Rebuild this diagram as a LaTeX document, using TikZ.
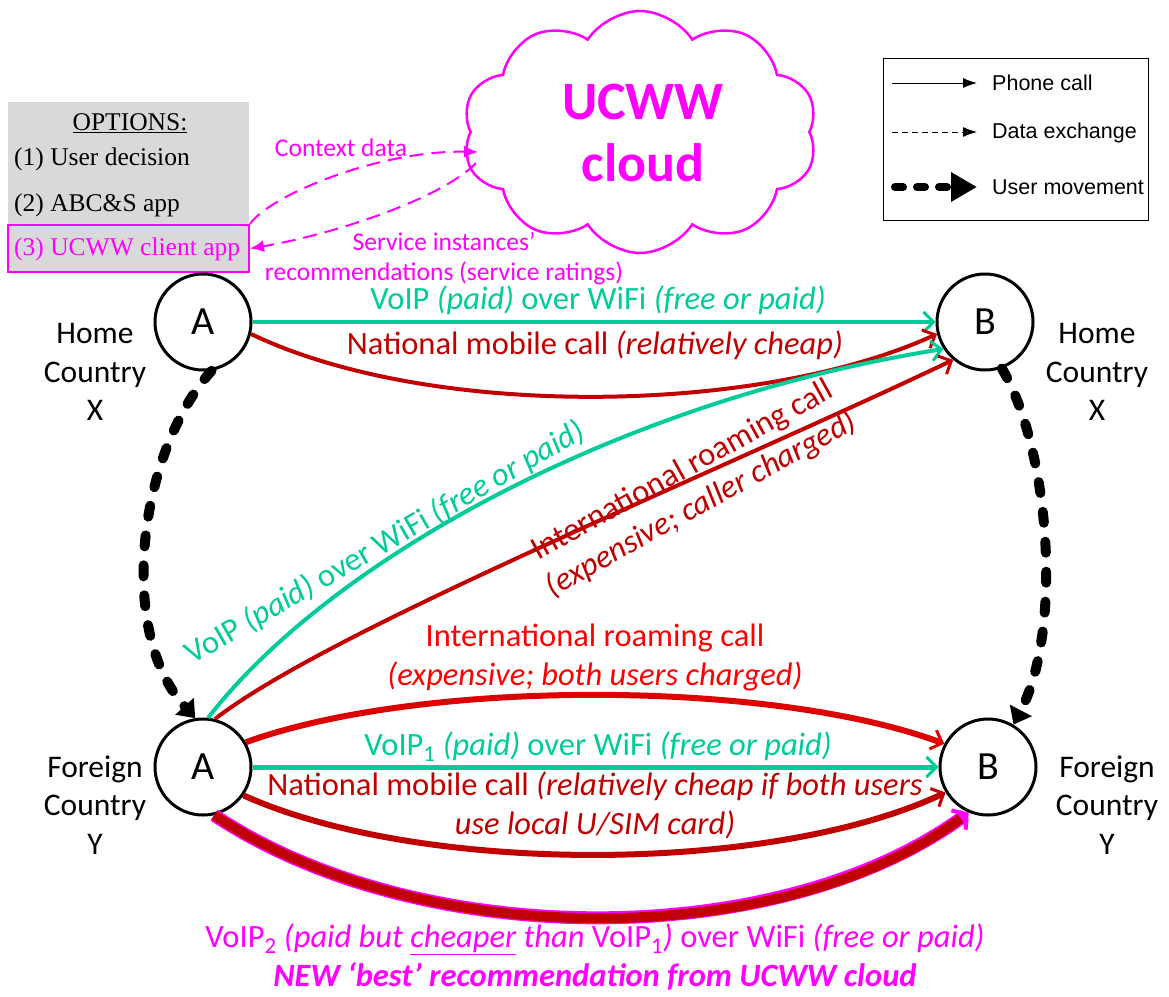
\documentclass[tikz,border=0pt]{standalone}
\usepackage{fontspec}
\setmainfont{Carlito}
\newfontfamily\timesf{Liberation Serif}
\newfontfamily\arialf{Liberation Sans}
\usetikzlibrary{arrows.meta,shapes.symbols}
\definecolor{teal2}{RGB}{0,204,153}
\definecolor{dred}{RGB}{192,0,0}
\definecolor{bred}{RGB}{255,0,0}
\definecolor{mred}{RGB}{220,0,0}
\definecolor{mag}{RGB}{255,0,255}
\definecolor{optgray}{RGB}{217,217,217}
\begin{document}
\begin{tikzpicture}[x=1pt,y=-1pt,
  person/.style={circle,draw,line width=3pt,minimum size=96pt,inner sep=0pt,font=\fontsize{40}{40}\selectfont},
  place/.style={align=center,font=\fontsize{31.5}{38.5}\selectfont},
  lbl/.style={align=center,inner sep=0pt,font=\fontsize{32.5}{39}\selectfont},
  barb/.style={-{Straight Barb[length=10pt,width=20pt,line width=3pt]}},
  call/.style={line width=4pt,barb},
  bigcall/.style={line width=6pt,barb},
  data/.style={mag,line width=2pt,dash pattern=on 14pt off 8pt,-{Latex[length=14pt,width=12pt]}},
  move/.style={line width=10pt,line cap=round,dash pattern=on 11pt off 19pt,-{Triangle[length=16pt,width=24pt]}},
  opttext/.style={anchor=west,inner sep=0pt,font=\timesf\fontsize{25.5}{25.5}\selectfont},
  legtext/.style={anchor=west,inner sep=0pt,font=\arialf\fontsize{21.5}{21.5}\selectfont},
]
\useasboundingbox (0,0) rectangle (1169,996);

% options box
\node[fill=optgray,minimum width=241pt,minimum height=170pt,inner sep=0pt] (opt) at (128.5,187) {};
\node[inner sep=0pt,font=\timesf\fontsize{25.5}{25.5}\selectfont] (optt) at (130,123) {\underline{OPTIONS:}};
\node[opttext] (opt1) at (14,159) {(1) User decision};
\node[opttext] (opt2) at (14,205) {(2) ABC\&S app};
\node[draw=mag,line width=2pt,fill=optgray,minimum width=241pt,minimum height=47pt,inner sep=0pt] (opt3) at (128.5,248.5) {};
\node[opttext,text=mag] (opt3t) at (14,249) {(3) UCWW client app};

% cloud
\node[cloud,cloud puffs=10,cloud puff arc=115,aspect=1.45,draw=mag,line width=2.5pt,minimum width=355pt,minimum height=242pt] (cloud) at (640,132) {};
\node[align=center,text=mag,font=\bfseries\fontsize{54}{62}\selectfont] (cloudt) at (643,133) {UCWW\\cloud};
\coordinate (cin) at (478,152);
\coordinate (cout) at (476,163);

% data exchange
\draw[data] (opt3.north east) .. controls (270,195) and (380,150) .. (cin);
\draw[data] (cout) .. controls (440,200) and (330,235) .. (opt3.east);
\node[text=mag,font=\fontsize{25.5}{25.5}\selectfont] (lctx) at (341,148) {Context data};
\node[text=mag,align=center,font=\fontsize{25.5}{30}\selectfont] (lsvc) at (444,259) {Service instances'\\recommendations (service ratings)};

% legend
\node[draw,line width=1pt,minimum width=265pt,minimum height=162pt,inner sep=0pt] (leg) at (1015.5,139) {};
\coordinate (l1a) at (892,83); \coordinate (l1b) at (977,83);
\coordinate (l2a) at (892,132); \coordinate (l2b) at (977,132);
\coordinate (l3a) at (895,187); \coordinate (l3b) at (977,187);
\draw[line width=1pt,-{Latex[length=14pt,width=10pt]}] (l1a) -- (l1b);
\draw[line width=1pt,dash pattern=on 6pt off 4pt,-{Latex[length=14pt,width=10pt]}] (l2a) -- (l2b);
\draw[line width=8pt,line cap=round,dash pattern=on 8pt off 14pt,-{Triangle[length=26pt,width=28pt]}] (l3a) -- (l3b);
\node[legtext] (lg1) at (992,83) {Phone call};
\node[legtext] (lg2) at (992,133) {Data exchange};
\node[legtext] (lg3) at (992,187) {User movement};

% persons
\node[person] (a1) at (203,322) {A};
\node[person] (b1) at (985,322) {B};
\node[person] (a2) at (203,767) {A};
\node[person] (b2) at (988,767) {B};

% places
\node[place] (p1) at (95,372) {Home\\Country\\X};
\node[place] (p2) at (1097,372) {Home\\Country\\X};
\node[place] (p3) at (95,805) {Foreign\\Country\\Y};
\node[place] (p4) at (1107,805) {Foreign\\Country\\Y};

% user movement
\draw[move] (a1.-80) .. controls (140,450) and (115,630) .. (a2.99);
\draw[move] (b1.-70) .. controls (1050,450) and (1063,630) .. (b2.59);

% top calls
\draw[call,teal2] (a1.east) -- (b1.west);
\draw[call,dred] (a1.-14) .. controls (430,420) and (760,415) .. (b1.-166);
\node[lbl,text=teal2] (t1) at (598,300) {VoIP \textit{(paid)} over WiFi \textit{(free or paid)}};
\node[lbl,text=dred] (t2) at (595,345) {National mobile call \textit{(relatively cheap)}};

% diagonal calls
\draw[call,teal2] (a2.84) .. controls (330,560) and (620,400) .. (b1.-147);
\draw[call,dred] (a2.76) .. controls (330,630) and (700,480) .. (b1.-130);
\node[lbl,text=teal2,rotate=30] (t3) at (385,543) {VoIP \textit{(paid)} over WiFi \textit{(free or paid)}};
\node[lbl,text=dred,rotate=29] (t4) at (692,488) {International roaming call\\\textit{(expensive; caller charged)}};

% bottom calls
\draw[bigcall,mred] (a2.30) .. controls (420,679) and (770,679) .. (b2.152);
\node[lbl,text=bred] (t5) at (595,657) {International roaming call\\\textit{(expensive; both users charged)}};
\draw[bigcall,teal2,line width=5pt] (a2.east) -- (b2.west);
\node[lbl,text=teal2] (t6) at (598,747) {VoIP\textsubscript{1} \textit{(paid)} over WiFi \textit{(free or paid)}};
\draw[bigcall,dred] (a2.-35) .. controls (420,875) and (770,875) .. (b2.-149);
\node[lbl,text=dred] (t7) at (595,805) {National mobile call \textit{(relatively cheap if both users}\\\textit{use local U/SIM card)}};
\draw[mag,line width=13pt,-{Straight Barb[length=10pt,width=24pt,line width=4pt]}] (a2.-77) .. controls (420,952) and (780,952) .. (b2.-113);
\draw[dred,line width=10pt,shorten >=10pt] (a2.-77) .. controls (420,952) and (780,952) .. (b2.-113);
\node[lbl,text=mag] (t8) at (595,957) {VoIP\textsubscript{2} \textit{(paid but \underline{cheaper} than} VoIP\textsubscript{1}\textit{)} over WiFi \textit{(free or paid)}\\\textbf{\textit{NEW ‘best’ recommendation from UCWW cloud}}};
\end{tikzpicture}
\end{document}
